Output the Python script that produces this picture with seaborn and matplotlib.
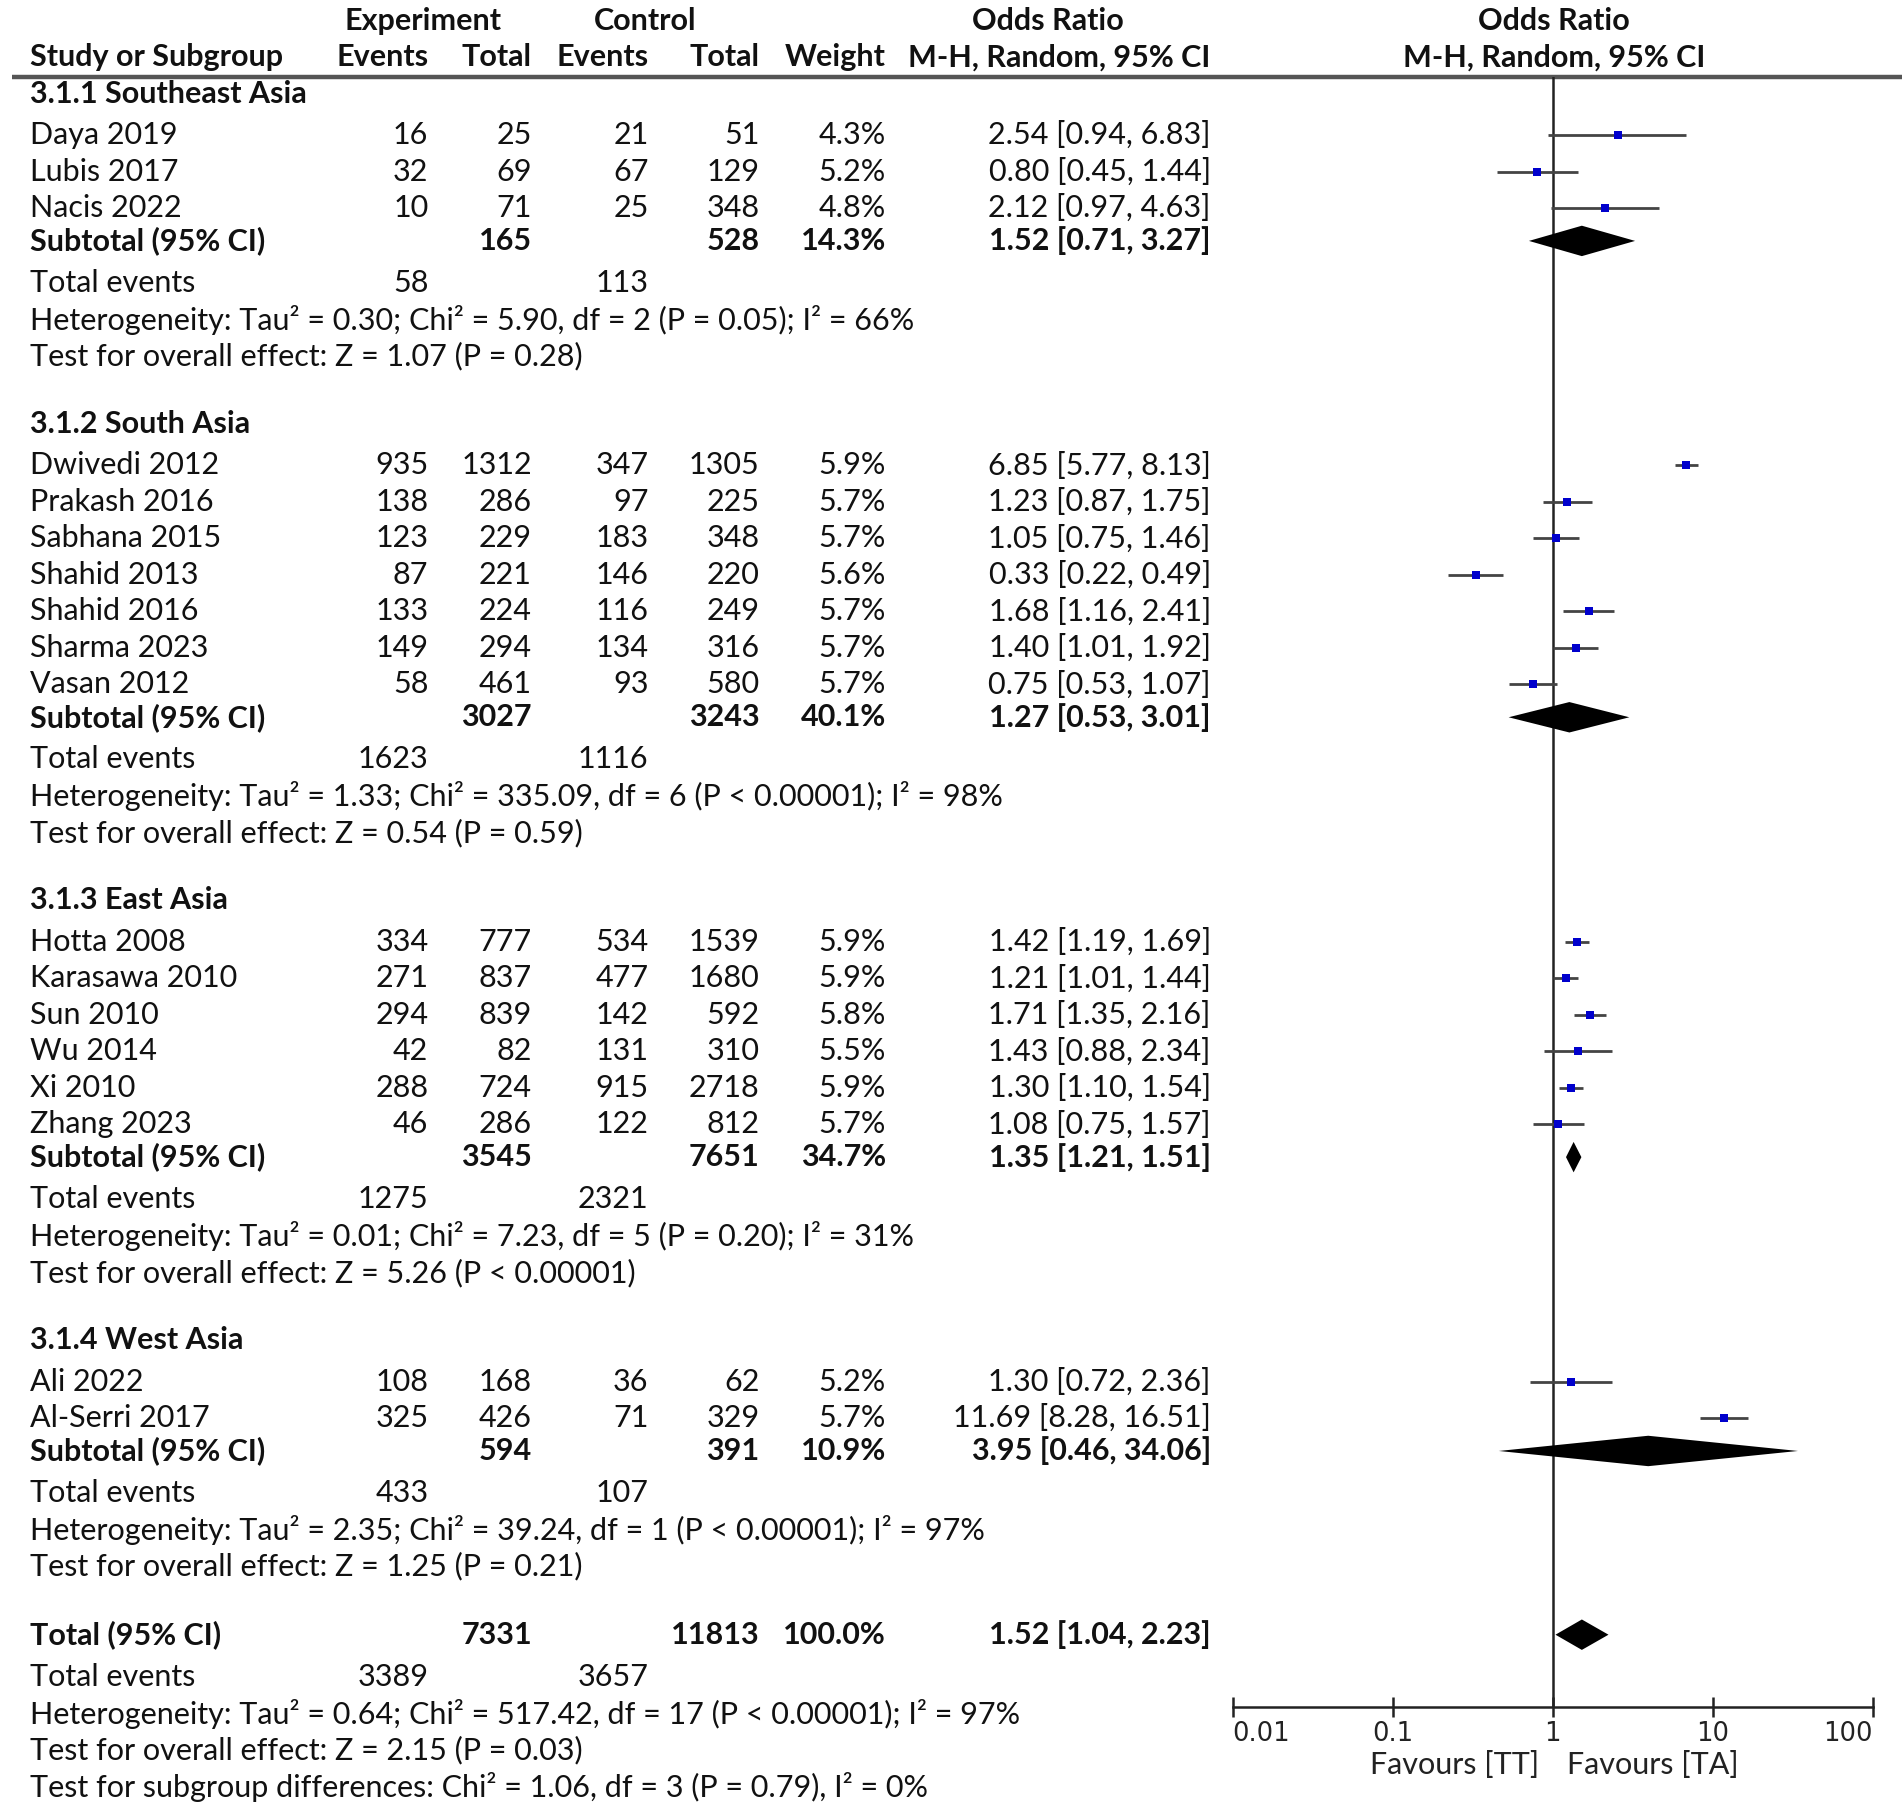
import matplotlib
matplotlib.use("Agg")
import matplotlib.pyplot as plt
from matplotlib.ticker import NullLocator
import seaborn as sns
import pandas as pd

# study level data
studies = ["Daya 2019", "Lubis 2017", "Nacis 2022",
           "Dwivedi 2012", "Prakash 2016", "Sabhana 2015", "Shahid 2013",
           "Shahid 2016", "Sharma 2023", "Vasan 2012",
           "Hotta 2008", "Karasawa 2010", "Sun 2010", "Wu 2014", "Xi 2010",
           "Zhang 2023",
           "Ali 2022", "Al-Serri 2017"]
study_group = [0, 0, 0, 1, 1, 1, 1, 1, 1, 1, 2, 2, 2, 2, 2, 2, 3, 3]
exp_events = [16, 32, 10, 935, 138, 123, 87, 133, 149, 58, 334, 271, 294, 42, 288, 46, 108, 325]
exp_total = [25, 69, 71, 1312, 286, 229, 221, 224, 294, 461, 777, 837, 839, 82, 724, 286, 168, 426]
ctl_events = [21, 67, 25, 347, 97, 183, 146, 116, 134, 93, 534, 477, 142, 131, 915, 122, 36, 71]
ctl_total = [51, 129, 348, 1305, 225, 348, 220, 249, 316, 580, 1539, 1680, 592, 310, 2718, 812, 62, 329]
weights = [4.3, 5.2, 4.8, 5.9, 5.7, 5.7, 5.6, 5.7, 5.7, 5.7, 5.9, 5.9, 5.8, 5.5, 5.9, 5.7, 5.2, 5.7]
odds = [2.54, 0.80, 2.12, 6.85, 1.23, 1.05, 0.33, 1.68, 1.40, 0.75, 1.42, 1.21, 1.71, 1.43, 1.30, 1.08, 1.30, 11.69]
ci_low = [0.94, 0.45, 0.97, 5.77, 0.87, 0.75, 0.22, 1.16, 1.01, 0.53, 1.19, 1.01, 1.35, 0.88, 1.10, 0.75, 0.72, 8.28]
ci_high = [6.83, 1.44, 4.63, 8.13, 1.75, 1.46, 0.49, 2.41, 1.92, 1.07, 1.69, 1.44, 2.16, 2.34, 1.54, 1.57, 2.36, 16.51]

# subgroup data
group_names = ["3.1.1 Southeast Asia", "3.1.2 South Asia", "3.1.3 East Asia", "3.1.4 West Asia"]
sub_exp_total = [165, 3027, 3545, 594]
sub_ctl_total = [528, 3243, 7651, 391]
sub_weight = [14.3, 40.1, 34.7, 10.9]
sub_odds = [1.52, 1.27, 1.35, 3.95]
sub_low = [0.71, 0.53, 1.21, 0.46]
sub_high = [3.27, 3.01, 1.51, 34.06]
sub_exp_events = [58, 1623, 1275, 433]
sub_ctl_events = [113, 1116, 2321, 107]
sub_het = ["Heterogeneity: Tau² = 0.30; Chi² = 5.90, df = 2 (P = 0.05); I² = 66%",
           "Heterogeneity: Tau² = 1.33; Chi² = 335.09, df = 6 (P < 0.00001); I² = 98%",
           "Heterogeneity: Tau² = 0.01; Chi² = 7.23, df = 5 (P = 0.20); I² = 31%",
           "Heterogeneity: Tau² = 2.35; Chi² = 39.24, df = 1 (P < 0.00001); I² = 97%"]
sub_test = ["Test for overall effect: Z = 1.07 (P = 0.28)",
            "Test for overall effect: Z = 0.54 (P = 0.59)",
            "Test for overall effect: Z = 5.26 (P < 0.00001)",
            "Test for overall effect: Z = 1.25 (P = 0.21)"]

# overall
tot_exp_total = 7331
tot_ctl_total = 11813
tot_weight = 100.0
tot_odds = 1.52
tot_low = 1.04
tot_high = 2.23
tot_exp_events = 3389
tot_ctl_events = 3657
tot_het = "Heterogeneity: Tau² = 0.64; Chi² = 517.42, df = 17 (P < 0.00001); I² = 97%"
tot_test = "Test for overall effect: Z = 2.15 (P = 0.03)"
subgroup_diff = "Test for subgroup differences: Chi² = 1.06, df = 3 (P = 0.79), I² = 0%"

axis_ticks = [0.01, 0.1, 1, 10, 100]
axis_labels = ["0.01", "0.1", "1", "10", "100"]
favours = ["Favours [TT]", "Favours [TA]"]

sns.set_style("white")
plt.rcParams["font.family"] = ["Lato", "DejaVu Sans"]

# layout in reference units
W, H = 1563, 1481
FS = 22
col_x = [352, 437, 533, 624, 728, 995]
y_rule, y_axis = 63, 1403
x_lo, x_hi = 1013, 1539

fig = plt.figure(figsize=(19.02, 18.02), dpi=100)
bg = fig.add_axes([0, 0, 1, 1])
bg.set_xlim(0, W)
bg.set_ylim(H, 0)
bg.axis("off")

ax = fig.add_axes([x_lo / W, 1 - y_axis / H, (x_hi - x_lo) / W, (y_axis - y_rule) / H])
ax.set_facecolor("none")


def txt(x, y, s, ha="left", bold=False):
    bg.text(x, y, s, ha=ha, va="center", fontsize=FS,
            fontweight="bold" if bold else "normal", color="#111111")


def fmt_ci(o, lo, hi):
    return f"{o:.2f} [{lo:.2f}, {hi:.2f}]"


# header
txt(348, 17, "Experiment", ha="center", bold=True)
txt(530, 17, "Control", ha="center", bold=True)
txt(861, 17, "Odds Ratio", ha="center", bold=True)
txt(1277, 17, "Odds Ratio", ha="center", bold=True)
txt(25, 47, "Study or Subgroup", bold=True)
for x, s in zip(col_x, ["Events", "Total", "Events", "Total", "Weight", "M-H, Random, 95% CI"]):
    txt(x, 47, s, ha="right", bold=True)
txt(1277, 47, "M-H, Random, 95% CI", ha="center", bold=True)
bg.plot([10, W], [y_rule, y_rule], color="#555555", lw=3.2, solid_capstyle="butt")

rows = []
diamonds = []
y = 77
for g, name in enumerate(group_names):
    txt(25, y, name, bold=True)
    idx = [i for i, s in enumerate(study_group) if s == g]
    ys = y + 34
    for k, i in enumerate(idx):
        yy = ys + 30 * k
        txt(25, yy, studies[i])
        vals = [exp_events[i], exp_total[i], ctl_events[i], ctl_total[i],
                f"{weights[i]:.1f}%", fmt_ci(odds[i], ci_low[i], ci_high[i])]
        for x, v in zip(col_x, vals):
            txt(x, yy, str(v), ha="right")
        rows.append({"odds": odds[i], "low": ci_low[i], "high": ci_high[i], "y": yy})
    ysub = ys + 30 * (len(idx) - 1) + 27
    txt(25, ysub, "Subtotal (95% CI)", bold=True)
    txt(col_x[1], ysub, str(sub_exp_total[g]), ha="right", bold=True)
    txt(col_x[3], ysub, str(sub_ctl_total[g]), ha="right", bold=True)
    txt(col_x[4], ysub, f"{sub_weight[g]:.1f}%", ha="right", bold=True)
    txt(col_x[5], ysub, fmt_ci(sub_odds[g], sub_low[g], sub_high[g]), ha="right", bold=True)
    diamonds.append((sub_odds[g], sub_low[g], sub_high[g], ysub))
    yte = ysub + 34.5
    txt(25, yte, "Total events")
    txt(col_x[0], yte, str(sub_exp_events[g]), ha="right")
    txt(col_x[2], yte, str(sub_ctl_events[g]), ha="right")
    txt(25, yte + 30.5, sub_het[g])
    txt(25, yte + 60.5, sub_test[g])
    y = yte + 60.5 + 55.5

# overall block
ytot = y - 55.5 + 56
txt(25, ytot, "Total (95% CI)", bold=True)
txt(col_x[1], ytot, str(tot_exp_total), ha="right", bold=True)
txt(col_x[3], ytot, str(tot_ctl_total), ha="right", bold=True)
txt(col_x[4], ytot, f"{tot_weight:.1f}%", ha="right", bold=True)
txt(col_x[5], ytot, fmt_ci(tot_odds, tot_low, tot_high), ha="right", bold=True)
diamonds.append((tot_odds, tot_low, tot_high, ytot))
yte = ytot + 34.5
txt(25, yte, "Total events")
txt(col_x[0], yte, str(tot_exp_events), ha="right")
txt(col_x[2], yte, str(tot_ctl_events), ha="right")
txt(25, yte + 30.5, tot_het)
txt(25, yte + 60.5, tot_test)
txt(25, yte + 90.5, subgroup_diff)

# forest part
df = pd.DataFrame(rows)
ax.set_xscale("log")
ax.axvline(1, color="#222222", lw=1.8, zorder=1)
ax.hlines(df["y"], df["low"], df["high"], color="#444444", lw=2.0, zorder=2)
sns.scatterplot(data=df, x="odds", y="y", marker="s", color="#0000cc", s=30,
                linewidth=0, ax=ax, legend=False, zorder=3)
for o, lo, hi, yy in diamonds:
    ax.fill([lo, o, hi, o], [yy, yy - 12.5, yy, yy + 12.5], color="black", lw=0, zorder=3)

ax.set_xlim(axis_ticks[0], axis_ticks[-1])
ax.set_ylim(y_axis, y_rule)
ax.set_xlabel("")
ax.set_ylabel("")
ax.set_yticks([])
ax.set_xticks(axis_ticks)
ax.set_xticklabels(axis_labels, fontsize=18.5, family="DejaVu Sans", color="#222222")
ax.xaxis.set_minor_locator(NullLocator())
ax.tick_params(axis="x", which="major", bottom=True, direction="inout", length=14,
               width=1.8, color="#222222", pad=3)
labels = ax.get_xticklabels()
labels[0].set_ha("left")
labels[-1].set_ha("right")
for side in ["top", "left", "right"]:
    ax.spines[side].set_visible(False)
ax.spines["bottom"].set_color("#222222")
ax.spines["bottom"].set_linewidth(1.8)

bg.text(1265, 1451, favours[0], ha="right", va="center", fontsize=FS, color="#222222")
bg.text(1288, 1451, favours[1], ha="left", va="center", fontsize=FS, color="#222222")

fig.savefig("out.png", dpi=100)
